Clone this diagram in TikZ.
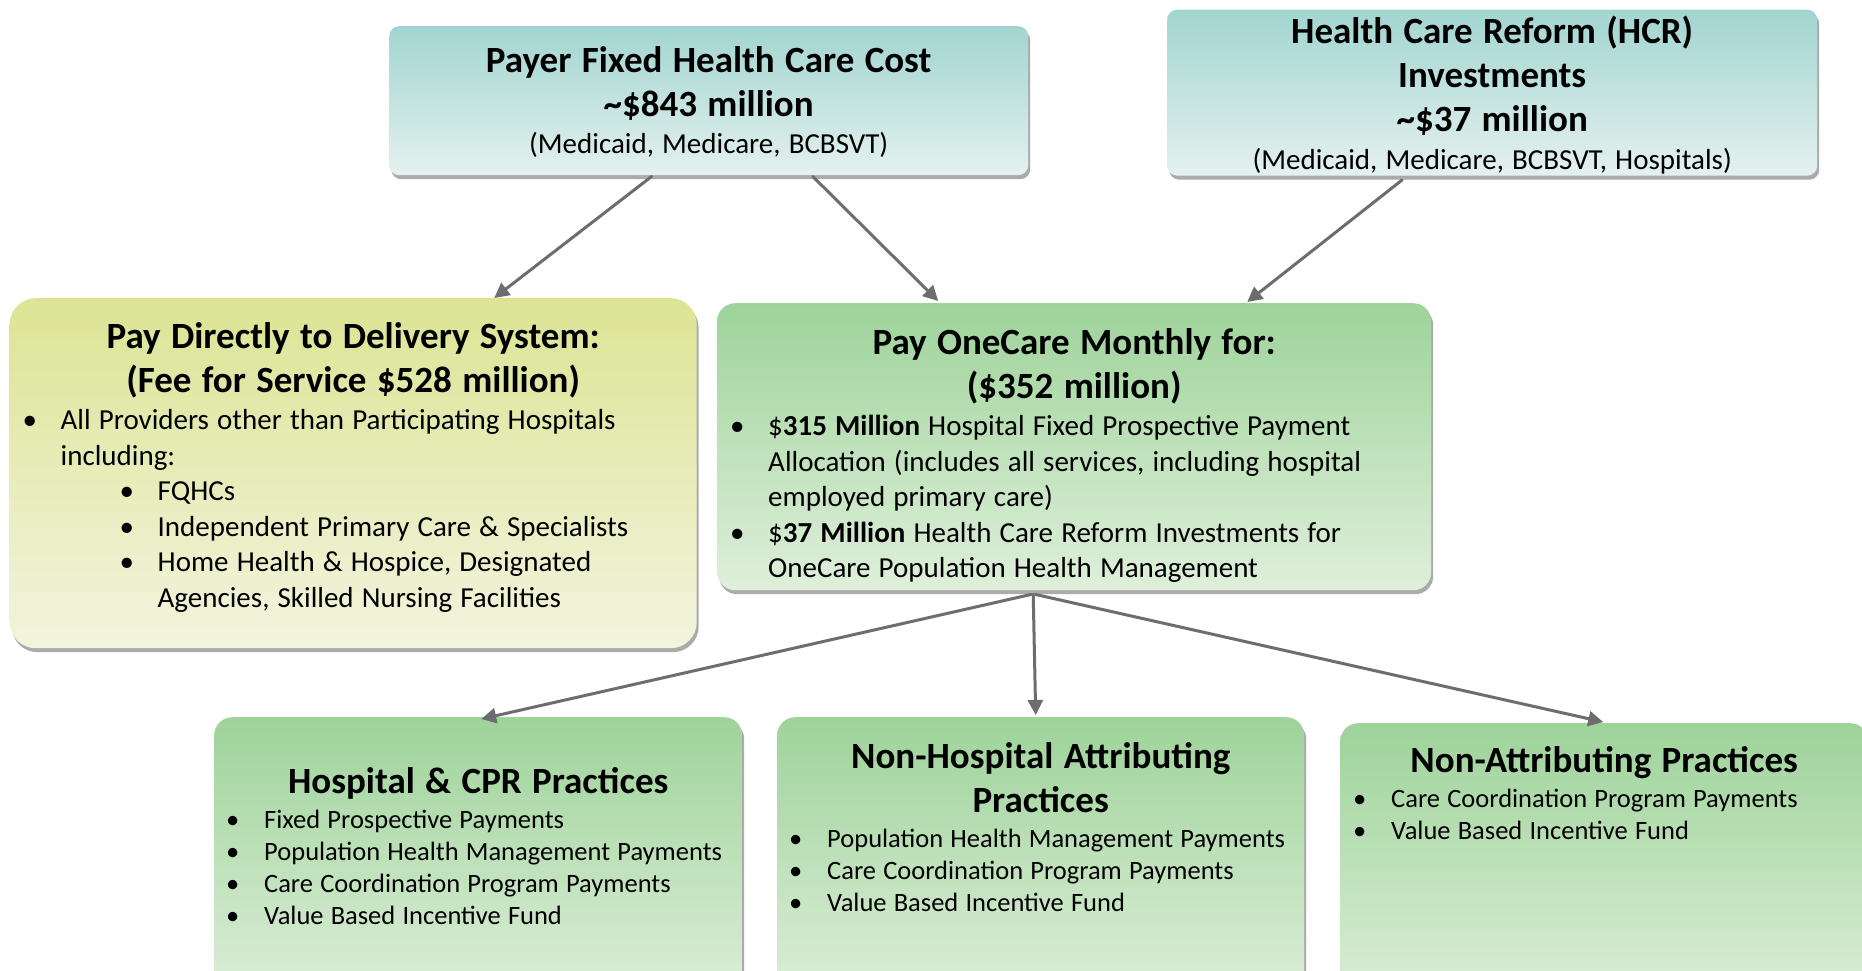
\documentclass[tikz,border=0pt]{standalone}
\usepackage{fontspec}
\setmainfont{Carlito}
\usetikzlibrary{arrows.meta,shadows}
\definecolor{tealtop}{HTML}{A2D5D0}
\definecolor{tealbot}{HTML}{E4F1EF}
\definecolor{limetop}{HTML}{DCE494}
\definecolor{limebot}{HTML}{F2F4DE}
\definecolor{greentop}{HTML}{9ED39A}
\definecolor{greenbot}{HTML}{DFEFDB}
\definecolor{arrowgray}{HTML}{6D6D6D}
\newcommand{\bul}[2]{\par\hangindent=#1\hangafter=1\noindent\hspace*{\dimexpr#1-38pt\relax}\makebox[38pt][l]{\textbullet}#2}
\newcommand{\ttl}{\fontsize{37}{44}\selectfont\bfseries\spaceskip=.28em\relax}
\newcommand{\bdy}{\fontsize{29}{35.5}\selectfont\mdseries\spaceskip=.28em\relax}
\newcommand{\sml}{\fontsize{26.5}{32}\selectfont\mdseries\spaceskip=.27em\relax}
\begin{document}
\begin{tikzpicture}[x=1pt,y=1pt,line join=round,line cap=round,
	>={Triangle[length=15pt,width=15pt]},
	box/.style={anchor=north west,inner sep=0pt,rounded corners=18pt,
		drop shadow={shadow xshift=2pt,shadow yshift=-4pt,fill=black!60,opacity=.55}},
	teal/.style={box,top color=tealtop,bottom color=tealbot,rounded corners=10pt},
	lime/.style={box,top color=limetop,bottom color=limebot,rounded corners=26pt},
	green/.style={box,top color=greentop,bottom color=greenbot},
	txt/.style={anchor=base,inner sep=0pt},
	flow/.style={->,draw=arrowgray,line width=3pt}]
	\useasboundingbox (0,0) rectangle (1862,-970);
	\clip (0,0) rectangle (1862,-970);
	% boxes
	\node[teal,minimum width=639pt,minimum height=149pt] (payer) at (389,-26) {};
	\node[teal,minimum width=650pt,minimum height=166pt] (hcr) at (1167,-9.5) {};
	\node[lime,minimum width=687pt,minimum height=350pt] (direct) at (9.5,-298) {};
	\node[green,minimum width=714pt,minimum height=287pt] (onecare) at (717,-303) {};
	\node[green,minimum width=528pt,minimum height=290pt] (cpr) at (214,-717) {};
	\node[green,minimum width=527pt,minimum height=290pt] (nonhosp) at (777,-717) {};
	\node[green,minimum width=528pt,minimum height=290pt] (nonattr) at (1340,-723) {};
	% texts
	\node[txt,text width=639pt] (payerT) at ([yshift=-46pt]payer.north)
		{{\centering\ttl Payer Fixed Health Care Cost\\\textasciitilde\$843 million\par}
		\vspace{2pt}{\centering\bdy (Medicaid, Medicare, BCBSVT)\par}};
	\node[txt,text width=650pt] (hcrT) at ([yshift=-33.5pt]hcr.north)
		{{\centering\ttl Health Care Reform (HCR)\\Investments\\\textasciitilde\$37 million\par}
		\vspace{3pt}{\centering\bdy (Medicaid, Medicare, BCBSVT, Hospitals)\par}};
	\node[txt,text width=687pt] (directT) at ([yshift=-50pt]direct.north)
		{{\centering\ttl Pay Directly to Delivery System:\\(Fee for Service \$528 million)\par}
		\vspace{2pt}\bdy\raggedright
		\bul{51pt}{All Providers other than Participating Hospitals\newline including:}
		\bul{148pt}{FQHCs}
		\bul{148pt}{Independent Primary Care \& Specialists}
		\bul{148pt}{Home Health \& Hospice, Designated\newline Agencies, Skilled Nursing Facilities}\par};
	\node[txt,text width=714pt] (onecareT) at ([yshift=-51pt]onecare.north)
		{{\centering\ttl Pay OneCare Monthly for:\\(\$352 million)\par}
		\vspace{2pt}\bdy\raggedright
		\bul{51pt}{\$\textbf{315 Million} Hospital Fixed Prospective Payment\newline Allocation (includes all services, including hospital\newline employed primary care)}
		\bul{51pt}{\$\textbf{37 Million} Health Care Reform Investments for\newline OneCare Population Health Management}\par};
	\node[txt,text width=528pt] (cprT) at ([yshift=-76pt]cpr.north)
		{{\centering\ttl Hospital \& CPR Practices\par}
		\vspace{3pt}\sml\raggedright
		\bul{50pt}{Fixed Prospective Payments}
		\bul{50pt}{Population Health Management Payments}
		\bul{50pt}{Care Coordination Program Payments}
		\bul{50pt}{Value Based Incentive Fund}\par};
	\node[txt,text width=527pt] (nonhospT) at ([yshift=-51pt]nonhosp.north)
		{{\centering\ttl Non-Hospital Attributing\\Practices\par}
		\vspace{3pt}\sml\raggedright
		\bul{50pt}{Population Health Management Payments}
		\bul{50pt}{Care Coordination Program Payments}
		\bul{50pt}{Value Based Incentive Fund}\par};
	\node[txt,text width=528pt] (nonattrT) at ([yshift=-49pt]nonattr.north)
		{{\centering\ttl Non-Attributing Practices\par}
		\vspace{3pt}\sml\raggedright
		\bul{51pt}{Care Coordination Program Payments}
		\bul{51pt}{Value Based Incentive Fund}\par};
	% arrows
	\draw[flow] ([xshift=-57pt,yshift=-1pt]payer.south) -- ([xshift=141pt]direct.north);
	\draw[flow] ([xshift=104pt,yshift=-1pt]payer.south) -- ([xshift=-136pt,yshift=2pt]onecare.north);
	\draw[flow] ([xshift=-90pt,yshift=-4pt]hcr.south) -- ([xshift=173pt,yshift=1pt]onecare.north);
	\draw[flow] ([xshift=-43pt,yshift=-4pt]onecare.south) -- ([xshift=3pt,yshift=-2pt]cpr.north);
	\draw[flow] ([xshift=-41pt,yshift=-4pt]onecare.south) -- ([xshift=-5pt,yshift=2pt]nonhosp.north);
	\draw[flow] ([xshift=-39pt,yshift=-4pt]onecare.south) -- ([xshift=-1pt,yshift=1pt]nonattr.north);
\end{tikzpicture}
\end{document}
